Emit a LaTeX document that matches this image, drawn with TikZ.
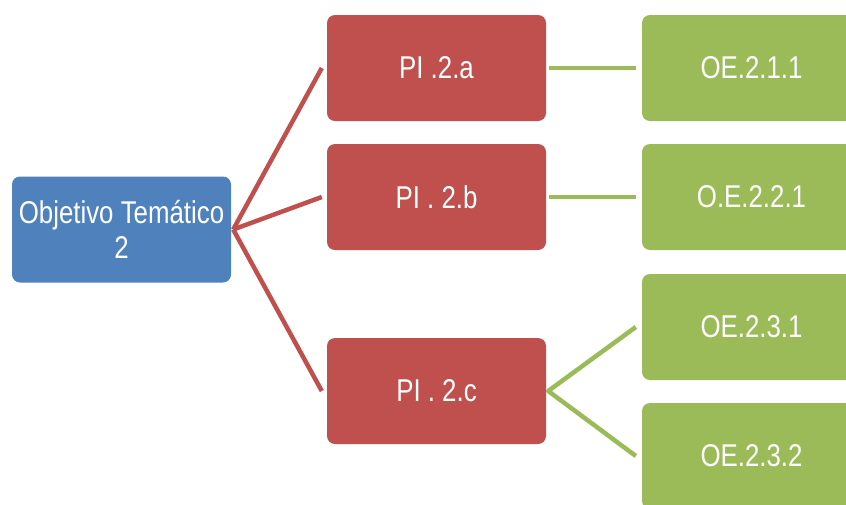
\documentclass[tikz,border=0pt]{standalone}
\usepackage{fontspec}
\setmainfont{Liberation Sans}[FakeStretch=0.82]
\usetikzlibrary{positioning}
\definecolor{azul}{HTML}{4F81BD}
\definecolor{rojo}{HTML}{C0504D}
\definecolor{verde}{HTML}{9BBB59}
\begin{document}
\begin{tikzpicture}[x=1pt,y=-1pt, line join=round,
    caja/.style={rounded corners=8pt, minimum width=219pt, minimum height=106pt, inner sep=0pt,
      text=white, align=center, font=\fontsize{31.5}{35}\selectfont},
    lrojo/.style={draw=rojo, line width=4.5pt},
    lverde/.style={draw=verde, line width=4.5pt}]
    \useasboundingbox (0,0) rectangle (846,504);
    % cajas
    \node[caja, fill=azul] (ot) at (121.5,229.5) {Objetivo Temático\\2};
    \node[caja, fill=rojo] (pia) at (436.5,68) {PI .2.a};
    \node[caja, fill=rojo] (pib) at (436.5,197) {PI . 2.b};
    \node[caja, fill=rojo] (pic) at (436.5,391) {PI . 2.c};
    \node[caja, fill=verde] (oea) at (751.5,68) {OE.2.1.1};
    \node[caja, fill=verde] (oeb) at (751.5,197) {O.E.2.2.1};
    \node[caja, fill=verde] (oec1) at (751.5,327) {OE.2.3.1};
    \node[caja, fill=verde] (oec2) at (751.5,456) {OE.2.3.2};
    % conectores
    \foreach \p in {pia,pib,pic}
        \draw[lrojo] ([xshift=2pt]ot.east) -- ([xshift=-5pt]\p.west);
    \draw[lverde] ([xshift=3pt]pia.east) -- ([xshift=-6pt]oea.west);
    \draw[lverde] ([xshift=3pt]pib.east) -- ([xshift=-6pt]oeb.west);
    \draw[lverde] ([xshift=-6pt]oec1.west) -- ([xshift=2pt]pic.east) -- ([xshift=-6pt]oec2.west);
\end{tikzpicture}
\end{document}
